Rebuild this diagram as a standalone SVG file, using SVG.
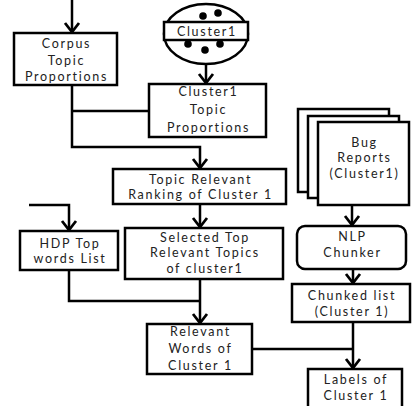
<svg xmlns="http://www.w3.org/2000/svg" width="412" height="406" viewBox="0 0 412 406">
<defs>
<style>
.box{fill:#fff;stroke:#000;stroke-width:2.5}
.ln{fill:none;stroke:#000;stroke-width:2.5}
.t{font-family:Lato,"Open Sans","DejaVu Sans",sans-serif;font-size:12.5px;letter-spacing:1.7px;text-anchor:middle;fill:#222}
</style>
<marker id="ah" markerUnits="userSpaceOnUse" markerWidth="20" markerHeight="20" refX="0" refY="0" viewBox="-12 -10 14 20" orient="auto" overflow="visible">
<path d="M-9,-7 L0,0 L-9,7" fill="none" stroke="#000" stroke-width="2.8"/>
</marker>
</defs>
<rect width="412" height="406" fill="#fff"/>
<g id="connectors">
<path class="ln" d="M72,0 V32" marker-end="url(#ah)"/>
<path class="ln" d="M72,85 V147 H200 V168" marker-end="url(#ah)"/>
<path class="ln" d="M72,111 H149"/>
<path class="ln" d="M206,64 V83" marker-end="url(#ah)"/>
<path class="ln" d="M200,204 V227" marker-end="url(#ah)"/>
<path class="ln" d="M29,205 H69 V230" marker-end="url(#ah)"/>
<path class="ln" d="M69,270 V301 H200"/>
<path class="ln" d="M200,279 V323" marker-end="url(#ah)"/>
<path class="ln" d="M352,205 V225" marker-end="url(#ah)"/>
<path class="ln" d="M353,269 V283" marker-end="url(#ah)"/>
<path class="ln" d="M353,322 V368" marker-end="url(#ah)"/>
<path class="ln" d="M252,349 H353"/>
</g>
<g id="corpus">
<rect class="box" x="14" y="33" width="103" height="52"/>
<text class="t" x="66.5" y="48">Corpus</text>
<text class="t" x="66.5" y="64.5">Topic</text>
<text class="t" x="66.5" y="81">Proportions</text>
</g>
<g id="cluster1">
<ellipse class="box" cx="206" cy="34" rx="42" ry="30"/>
<circle cx="203" cy="16" r="3.8"/>
<circle cx="218" cy="13" r="3.8"/>
<circle cx="188" cy="44" r="3.8"/>
<circle cx="205" cy="50" r="3.8"/>
<circle cx="220" cy="44" r="3.8"/>
<rect class="box" x="164" y="22" width="84" height="18"/>
<text class="t" x="207" y="35.5">Cluster1</text>
</g>
<g id="cluster1-topic">
<rect class="box" x="149" y="84" width="117" height="53"/>
<text class="t" x="208.5" y="95.5">Cluster1</text>
<text class="t" x="208.5" y="114">Topic</text>
<text class="t" x="208.5" y="132">Proportions</text>
</g>
<g id="ranking">
<rect class="box" x="113" y="169" width="173" height="35"/>
<text class="t" x="200.5" y="183.5">Topic Relevant</text>
<text class="t" x="200.5" y="198.5">Ranking of Cluster 1</text>
</g>
<g id="selected">
<rect class="box" x="125" y="228" width="158" height="51"/>
<text class="t" x="205" y="242">Selected Top</text>
<text class="t" x="205" y="257">Relevant Topics</text>
<text class="t" x="205" y="272.5">of cluster1</text>
</g>
<g id="hdp">
<rect class="box" x="20" y="231" width="98" height="39"/>
<text class="t" x="70" y="247.5">HDP Top</text>
<text class="t" x="70" y="262.5">words List</text>
</g>
<g id="relevant-words">
<rect class="box" x="147" y="324" width="105" height="50"/>
<text class="t" x="200.5" y="335.5">Relevant</text>
<text class="t" x="200.5" y="352.5">Words of</text>
<text class="t" x="200.5" y="369.5">Cluster 1</text>
</g>
<g id="bug-reports">
<rect class="box" x="298" y="109" width="91" height="83"/>
<rect class="box" x="308" y="116" width="91" height="82"/>
<rect class="box" x="318" y="122" width="91" height="83"/>
<text class="t" x="364.5" y="146.5">Bug</text>
<text class="t" x="364.5" y="162">Reports</text>
<text class="t" x="364.5" y="178">(Cluster1)</text>
</g>
<g id="nlp-chunker">
<rect class="box" x="297" y="226" width="109" height="43" rx="8"/>
<text class="t" x="352.5" y="240.5">NLP</text>
<text class="t" x="352.5" y="256.5">Chunker</text>
</g>
<g id="chunked-list">
<rect class="box" x="292" y="284" width="118" height="38"/>
<text class="t" x="352" y="299.5">Chunked list</text>
<text class="t" x="352" y="315.5">(Cluster 1)</text>
</g>
<g id="labels">
<rect class="box" x="308" y="369" width="94" height="42"/>
<text class="t" x="356" y="384">Labels of</text>
<text class="t" x="356" y="400">Cluster 1</text>
</g>
</svg>
